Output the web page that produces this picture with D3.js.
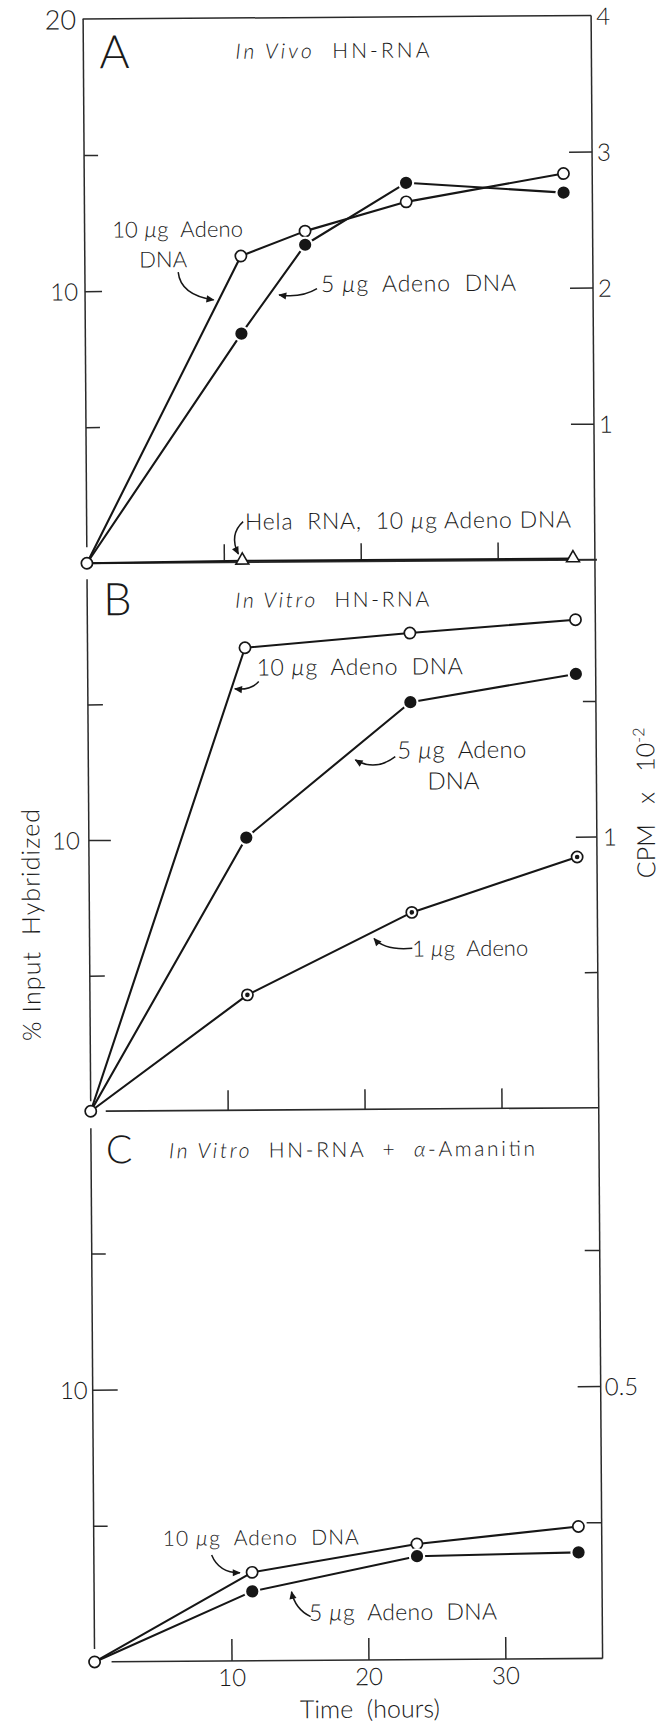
<!DOCTYPE html>
<html>
<head>
<meta charset="utf-8">
<script src="https://cdn.jsdelivr.net/npm/d3@7"></script>
<style>
  html, body { margin: 0; padding: 0; background: #fff; }
  svg { display: block; }
  text { font-family: Lato, "Open Sans", "DejaVu Sans", sans-serif; font-weight: 300; fill: #1a1a1a; white-space: pre; }
</style>
</head>
<body>
<svg id="chart" width="662" height="1726"></svg>
<script>
// ---- Panel A: in vivo HN-RNA (% input hybridized vs. hours) ----
const timesA = [0, 11.4, 16.1, 23.5, 35.0];
const a10ug  = [0, 11.25, 12.15, 13.2, 14.2];
const a5ug   = [0, 8.4, 11.65, 13.9, 13.5];
const timesHela = [0, 11.35, 35.5];
const helaRNA   = [0, 0.05, 0.05];

// ---- Panel B: in vitro HN-RNA ----
const timesB = [0, 11.5, 23.55, 35.65];
const b10ug  = [0, 17.05, 17.55, 18.0];
const b5ug   = [0, 10.05, 15.0, 16.0];
const b1ug   = [0, 4.25, 7.25, 9.25];

// ---- Panel C: in vitro HN-RNA + alpha-amanitin ----
const timesC = [0, 11.55, 23.6, 35.4];
const c10ug  = [0, 3.25, 4.25, 4.85];
const c5ug   = [0, 2.55, 3.8, 3.9];

// ---- tick values and tick labels ----
const leftTicksA  = [5, 10, 15, 20];     const leftLabelsA  = ["", "10", "", "20"];
const rightTicksA = [1, 2, 3, 4];        const rightLabelsA = ["1", "2", "3", "4"];
const leftTicksB  = [5, 10, 15];         const leftLabelsB  = ["", "10", ""];
const rightTicksB = [0.5, 1, 1.5];       const rightLabelsB = ["", "1", ""];
const leftTicksC  = [5, 10, 15];         const leftLabelsC  = ["", "10", ""];
const rightTicksC = [0.25, 0.5, 0.75];   const rightLabelsC = ["", "0.5", ""];
const timeTicks   = [10, 20, 30];        const timeLabels   = ["10", "20", "30"];

const INK = "#161616", AXIS = "#2a2a2a";

const svg = d3.select("#chart");
// the whole figure sits with a slight counter-clockwise tilt
const root = svg.append("g").attr("transform", "rotate(-0.4,340,860)");

// ---- scales ----
const x = d3.scaleLinear().domain([0, 37.1]).range([89, 597]);
const yA  = d3.scaleLinear().domain([0, 20]).range([561.5, 17.3]);
const yAr = d3.scaleLinear().domain([0, 4]).range([561.5, 17.3]);
const yB  = d3.scaleLinear().domain([0, 20]).range([1109.5, 567.1]);
const yBr = d3.scaleLinear().domain([0, 2]).range([1109.5, 567.1]);
const yC  = d3.scaleLinear().domain([0, 20]).range([1660.2, 1115.6]);
const yCr = d3.scaleLinear().domain([0, 1]).range([1660.2, 1115.6]);

const xl = x(0), xr = x.range()[1];

// ---- frame lines ----
const frame = root.append("g").attr("stroke", AXIS).attr("stroke-width", 1.5).attr("fill", "none");
const seg = (x1, y1, x2, y2, w) => frame.append("line")
  .attr("x1", x1).attr("y1", y1).attr("x2", x2).attr("y2", y2)
  .attr("stroke-width", w || 1.5);
seg(xl - 0.5, yA(20), xr, yA(20));                 // top edge
seg(xl, yA(20), xl, yA(0) - 16);                   // left edge A
seg(xl, yA(0) + 16, xl, yB(0) - 10);               // left edge B
seg(xl, yB(0) + 17, xl, yC(0) - 13);               // left edge C
seg(xr, yA(20), xr, yC(0));                        // right edge, all panels
seg(xl, yA(0), xr + 2, yA(0), 1.9);                // baseline A
seg(xl + 15, yB(0), xr, yB(0), 1.6);               // baseline B
seg(xl + 17, yC(0), xr, yC(0), 1.6);               // baseline C

// ---- vertical axes (inward ticks) ----
function sideAxis(side, scale, xPos, ticks, labels, longLen, shortLen, pad, size) {
  const gen = side === "left" ? d3.axisLeft(scale) : d3.axisRight(scale);
  const dir = side === "left" ? 1 : -1;
  const top = scale.domain()[1];
  const g = root.append("g").attr("transform", `translate(${xPos},0)`)
    .call(gen.tickValues(ticks).tickSizeOuter(0).tickSizeInner(-shortLen).tickPadding(pad)
      .tickFormat((d, i) => labels[i]));
  g.select(".domain").remove();
  g.attr("font-family", null).attr("font-size", null);
  g.selectAll(".tick line")
    .attr("stroke", AXIS).attr("stroke-width", 1.5)
    .attr("x2", (d, i) => d === top ? 0 : dir * (labels[i] ? longLen : shortLen));
  g.selectAll(".tick text")
    .attr("font-size", (d) => d === 20 ? 27 : size)
    .attr("fill", "#1a1a1a")
    .attr("dy", "0.36em")
    .attr("x", side === "left" ? -pad : pad);
  return g;
}
sideAxis("left",  yA,  xl, leftTicksA,  leftLabelsA,  17, 14, 7, 24);
sideAxis("right", yAr, xr, rightTicksA, rightLabelsA, 23, 23, 5, 24);
sideAxis("left",  yB,  xl, leftTicksB,  leftLabelsB,  22, 15, 9, 24);
sideAxis("right", yBr, xr, rightTicksB, rightLabelsB, 21, 13, 6, 24);
sideAxis("left",  yC,  xl, leftTicksC,  leftLabelsC,  25, 14, 5, 24);
sideAxis("right", yCr, xr, rightTicksC, rightLabelsC, 23, 15, 4, 24);

// ---- time ticks on each baseline (pointing up) ----
function timeAxis(yScale, len, gap, withLabels) {
  const g = root.append("g").attr("transform", `translate(0,${yScale(0)})`)
    .call(d3.axisBottom(x).tickValues(timeTicks).tickSizeOuter(0).tickSizeInner(-len).tickPadding(8)
      .tickFormat((d, i) => withLabels ? timeLabels[i] : ""));
  g.select(".domain").remove();
  g.attr("font-family", null).attr("font-size", null);
  g.selectAll(".tick line").attr("stroke", AXIS).attr("stroke-width", 1.5)
    .attr("y1", -gap).attr("y2", -len);
  g.selectAll(".tick text").attr("font-size", 24).attr("fill", "#1a1a1a");
}
timeAxis(yA, 18, 2, false);
timeAxis(yB, 20, 0, false);
timeAxis(yC, 22, 0, true);

// ---- data series ----
const panels = [
  { y: yA, series: [
      { t: timesA,    v: a10ug,   mark: "open" },
      { t: timesA,    v: a5ug,    mark: "filled" },
      { t: timesHela, v: helaRNA, mark: "triangle" } ] },
  { y: yB, series: [
      { t: timesB, v: b10ug, mark: "open" },
      { t: timesB, v: b5ug,  mark: "filled" },
      { t: timesB, v: b1ug,  mark: "dot" } ] },
  { y: yC, series: [
      { t: timesC, v: c10ug, mark: "open" },
      { t: timesC, v: c5ug,  mark: "filled" } ] }
];

const lineLayer = root.append("g");
const markLayer = root.append("g");

panels.forEach(p => {
  const line = d3.line().x(d => x(d[0])).y(d => p.y(d[1]));
  p.series.forEach(s => {
    const pts = s.t.map((t, i) => [t, s.v[i]]);
    lineLayer.append("path").attr("d", line(pts))
      .attr("fill", "none").attr("stroke", INK).attr("stroke-width", 2.1)
      .attr("stroke-linejoin", "round");
    pts.slice(1).forEach(([t, v]) => {
      const cx = x(t), cy = p.y(v);
      if (s.mark === "open" || s.mark === "dot") {
        markLayer.append("circle").attr("cx", cx).attr("cy", cy).attr("r", 5.6)
          .attr("fill", "#fff").attr("stroke", INK).attr("stroke-width", 1.7);
        if (s.mark === "dot")
          markLayer.append("circle").attr("cx", cx).attr("cy", cy).attr("r", 2.3).attr("fill", INK);
      } else if (s.mark === "filled") {
        markLayer.append("circle").attr("cx", cx).attr("cy", cy).attr("r", 8.2).attr("fill", "#fff");
        markLayer.append("circle").attr("cx", cx).attr("cy", cy).attr("r", 6.1).attr("fill", INK);
      } else {
        markLayer.append("path").attr("d", d3.symbol(d3.symbolTriangle, 72)())
          .attr("transform", `translate(${cx},${cy - 0.5})`)
          .attr("fill", "#fff").attr("stroke", INK).attr("stroke-width", 1.6);
      }
    });
  });
  // common starting point at time zero
  const s0 = p.series[0];
  markLayer.append("circle").attr("cx", x(s0.t[0])).attr("cy", p.y(s0.v[0])).attr("r", 5.6)
    .attr("fill", "#fff").attr("stroke", INK).attr("stroke-width", 1.7);
});

// ---- annotation arrows ----
const defs = svg.append("defs");
defs.append("marker").attr("id", "head").attr("viewBox", "0 0 10 10")
  .attr("refX", 9).attr("refY", 5).attr("markerWidth", 9).attr("markerHeight", 8)
  .attr("markerUnits", "userSpaceOnUse").attr("orient", "auto")
  .append("path").attr("d", "M0,0.5 L10,5 L0,9.5 Z").attr("fill", INK);

const arrows = [
  [[182.3, 271], [184.5, 294], [217.6, 299]],
  [[321, 288.5], [305, 298], [283, 294.5]],
  [[245.5, 521], [231, 534], [240.5, 553.3]],
  [[260, 681], [252, 690], [236, 688]],
  [[396, 757], [376, 772], [356, 760]],
  [[411.7, 948.8], [384, 951], [373.5, 938.8]],
  [[206.8, 1554], [214, 1572], [235, 1572]],
  [[305.4, 1616.4], [290, 1609], [286.4, 1591.4]]
];
root.append("g").selectAll("path").data(arrows).join("path")
  .attr("d", d => `M${d[0][0]},${d[0][1]} Q${d[1][0]},${d[1][1]} ${d[2][0]},${d[2][1]}`)
  .attr("fill", "none").attr("stroke", INK).attr("stroke-width", 1.5)
  .attr("marker-end", "url(#head)");

// ---- text labels ----
const notes = [
  { x: 105, y: 66.5, size: 46, parts: [["A"]] },
  { x: 241, y: 58, size: 21, len: 194, parts: [["In Vivo", 1], ["  HN-RNA"]] },
  { x: 116.5, y: 236, size: 22, len: 131, parts: [["10 "], ["\u00b5", 1], ["g  Adeno"]] },
  { x: 143.5, y: 266, size: 22, parts: [["DNA"]] },
  { x: 325, y: 292, size: 23, len: 195, parts: [["5 "], ["\u00b5", 1], ["g  Adeno  DNA"]] },
  { x: 247.4, y: 529, size: 23, len: 326, parts: [["Hela  RNA,  10 "], ["\u00b5", 1], ["g Adeno DNA"]] },

  { x: 105, y: 613.5, size: 45, parts: [["B"]] },
  { x: 237, y: 607, size: 21, len: 194, parts: [["In Vitro", 1], ["  HN-RNA"]] },
  { x: 258, y: 675, size: 23, len: 206, parts: [["10 "], ["\u00b5", 1], ["g  Adeno  DNA"]] },
  { x: 398, y: 759, size: 24, len: 129, parts: [["5 "], ["\u00b5", 1], ["g  Adeno"]] },
  { x: 428, y: 790, size: 24, parts: [["DNA"]] },
  { x: 411.5, y: 957, size: 22, len: 116, parts: [["1 "], ["\u00b5", 1], ["g  Adeno"]] },

  { x: 104, y: 1161.5, size: 39, parts: [["C"]] },
  { x: 167, y: 1157, size: 21, len: 366, parts: [["In Vitro", 1], ["  HN-RNA  +  "], ["\u03b1", 1], ["-Amanitin"]] },
  { x: 158, y: 1544.5, size: 21, len: 196, parts: [["10 "], ["\u00b5", 1], ["g  Adeno  DNA"]] },
  { x: 303.7, y: 1620.5, size: 23, len: 188, parts: [["5 "], ["\u00b5", 1], ["g  Adeno  DNA"]] }
];
notes.forEach(n => {
  const t = root.append("text").attr("x", n.x).attr("y", n.y).attr("font-size", n.size);
  if (n.len) t.attr("textLength", n.len).attr("lengthAdjust", "spacing");
  n.parts.forEach(([s, it]) => t.append("tspan").text(s).attr("font-style", it ? "italic" : null));
});

// ---- axis titles ----
root.append("text").attr("transform", "translate(39.5,922.8) rotate(-90)")
  .attr("text-anchor", "middle").attr("font-size", 25)
  .attr("textLength", 232).attr("lengthAdjust", "spacing")
  .text("% Input  Hybridized");

const cpm = root.append("text").attr("transform", "translate(655,805) rotate(-90)")
  .attr("text-anchor", "middle").attr("font-size", 25);
cpm.append("tspan").text("CPM   x   10");
cpm.append("tspan").attr("font-size", 16).attr("dy", -10).text("-2");

root.append("text").attr("x", 364).attr("y", 1718).attr("text-anchor", "middle")
  .attr("font-size", 25).text("Time  (hours)");
</script>
</body>
</html>
